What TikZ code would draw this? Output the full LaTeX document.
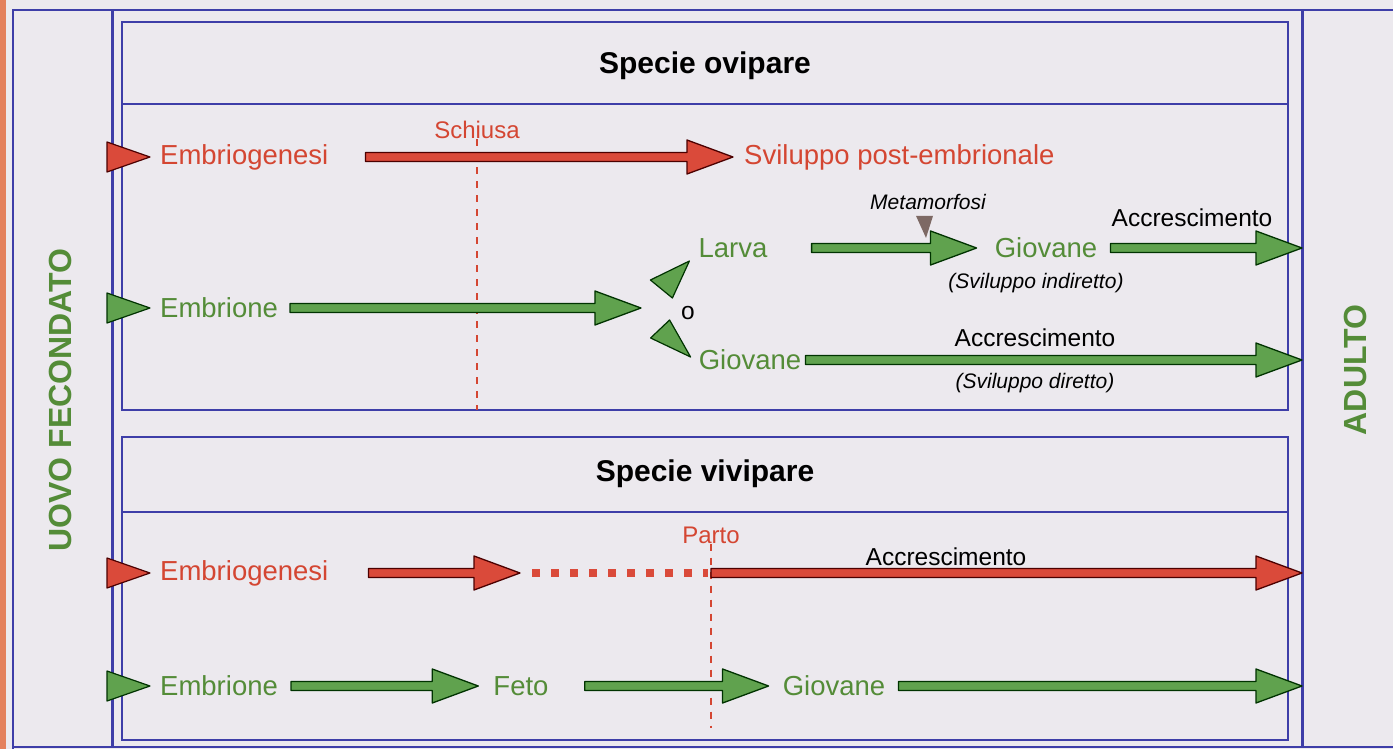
\documentclass[tikz,border=0pt]{standalone}
\usepackage{fontspec}
\setmainfont{Liberation Sans}
\usepackage{tikz}
\usetikzlibrary{calc, positioning}
\definecolor{paper}{RGB}{236,233,238}
\definecolor{pageedge}{RGB}{228,128,92}
\definecolor{framebl}{RGB}{62,62,168}
\definecolor{txtred}{RGB}{212,70,50}
\definecolor{txtgreen}{RGB}{84,140,56}
\definecolor{arrgreen}{RGB}{96,162,78}
\definecolor{arrred}{RGB}{218,74,58}
\definecolor{metabrown}{RGB}{125,105,100}

\tikzset{
  fat/.style={to path={let \p1=(\tikztostart), \p2=(\tikztotarget) in
    (\x1,\y1+4.5pt) -- (\x2-46pt,\y1+4.5pt) -- (\x2-46pt,\y1+17pt) -- (\x2,\y1)
    -- (\x2-46pt,\y1-17pt) -- (\x2-46pt,\y1-4.5pt) -- (\x1,\y1-4.5pt) -- cycle}},
  garrow/.style={fat, fill=arrgreen, draw=green!20!black, line width=1.3pt, line join=round},
  rarrow/.style={fat, fill=arrred, draw=red!30!black, line width=1.3pt, line join=round},
  gtri/.style={fill=arrgreen, draw=green!20!black, line width=1.2pt, line join=round},
  rtri/.style={fill=arrred, draw=red!30!black, line width=1.2pt, line join=round},
  frameline/.style={framebl, line width=2.2pt},
  boxline/.style={framebl, line width=2pt},
  stage/.style={font=\fontsize{27.5}{30}\selectfont, inner sep=0pt},
  redstage/.style={stage, text=txtred},
  greenstage/.style={stage, text=txtgreen},
  event/.style={font=\fontsize{24}{26}\selectfont, text=txtred, inner sep=0pt},
  growth/.style={font=\fontsize{24.5}{26}\selectfont, inner sep=0pt},
  remark/.style={font=\fontsize{21}{24}\selectfont\itshape, inner sep=0pt},
  title/.style={font=\fontsize{30}{32}\selectfont\bfseries, inner sep=0pt},
  colhead/.style={font=\fontsize{32}{34}\selectfont\bfseries, text=txtgreen, inner sep=0pt},
  birthline/.style={txtred, line width=1.6pt, dash pattern=on 7pt off 7pt},
}

\begin{document}
\begin{tikzpicture}[x=1pt, y=-1pt]
  \useasboundingbox (0,0) rectangle (1393,749);
  \fill[paper] (0,0) rectangle (1393,749);
  \fill[pageedge] (0,0) rectangle (6,749);

  % outer frame and columns
  \draw[frameline] (13,749) -- (13,10) -- (1393,10);
  \draw[frameline] (13,747) -- (1393,747);
  \draw[frameline, line width=3pt] (112,10) -- (112,747);
  \draw[frameline, line width=3pt] (1302,10) -- (1302,747);
  \coordinate (adult) at (1302,0);

  % the two boxes
  \draw[boxline] (122,22) rectangle (1288,410);
  \draw[boxline] (122,104) -- (1288,104);
  \draw[boxline] (122,437) rectangle (1288,740);
  \draw[boxline] (122,512) -- (1288,512);

  \node[colhead, rotate=90] (uovo) at (60,400) {UOVO FECONDATO};
  \node[colhead, rotate=90] (adulto) at (1355,370) {ADULTO};
  \node[title] (ovTitle) at (705,66) {Specie ovipare};
  \node[title] (viTitle) at (705,474) {Specie vivipare};

  % Specie ovipare
  \node[redstage, anchor=west] (ovEmb) at (160,157) {Embriogenesi};
  \node[redstage, anchor=west] (ovPost) at (744,157) {Sviluppo post-embrionale};
  \node[event] (schiusa) at (477,130) {Schiusa};
  \node[greenstage] (larva) at (733,248) {Larva};
  \node[greenstage] (ovGiovA) at (1046,248) {Giovane};
  \node[greenstage, anchor=west] (ovEmbr) at (160,308) {Embrione};
  \node[greenstage] (ovGiovB) at (750,360) {Giovane};
  \node[growth] (oppure) at (688,313) {o};
  \node[remark] (meta) at (928,202) {Metamorfosi};
  \node[growth] (accrA) at (1192,218) {Accrescimento};
  \node[remark] (indir) at (1036,283) {(Sviluppo indiretto)};
  \node[growth] (accrB) at (1035,338) {Accrescimento};
  \node[remark] (dir) at (1035,383) {(Sviluppo diretto)};

  \draw[birthline] (schiusa.south) -- (schiusa |- 0,410);
  \draw[rtri] ([xshift=-10]ovEmb.west) -- ++(-43,-15) -- ++(0,30) -- cycle;
  \draw[gtri] ([xshift=-10]ovEmbr.west) -- ++(-43,-15) -- ++(0,30) -- cycle;
  \draw[rarrow] ([xshift=37]ovEmb.east) to ([xshift=-11]ovPost.west);
  \draw[garrow] ([xshift=12]ovEmbr.east) to ([xshift=-40]oppure.west);
  \draw[gtri] ([shift={(-9,13)}]larva.west) -- ++(-39,19) -- ++(22,18) -- cycle;
  \draw[gtri] ([shift={(-8,-3)}]ovGiovB.west) -- ++(-21,-37) -- ++(-19,18) -- cycle;
  \draw[garrow] ([xshift=44]larva.east) to ([xshift=-18]ovGiovA.west);
  \fill[metabrown] ([shift={(-12,6)}]meta.south) -- ++(17,0) -- ++(-7,22) -- cycle;
  \draw[garrow] ([xshift=13]ovGiovA.east) to (adult |- ovGiovA);
  \draw[garrow] ([xshift=4]ovGiovB.east) to (adult |- ovGiovB);

  % Specie vivipare
  \node[redstage, anchor=west] (viEmb) at (160,573) {Embriogenesi};
  \node[event] (parto) at (711,535) {Parto};
  \node[growth] (accrC) at (946,557) {Accrescimento};
  \node[greenstage, anchor=west] (viEmbr) at (160,686) {Embrione};
  \node[greenstage] (feto) at (521,686) {Feto};
  \node[greenstage] (viGiov) at (834,686) {Giovane};
  \coordinate (endEmb) at (520,573);
  \coordinate (birth) at (parto |- viEmb);

  \draw[birthline] (parto.south) -- (parto |- 0,728);
  \draw[rtri] ([xshift=-10]viEmb.west) -- ++(-43,-15) -- ++(0,30) -- cycle;
  \draw[gtri] ([xshift=-10]viEmbr.west) -- ++(-43,-15) -- ++(0,30) -- cycle;
  \draw[rarrow] ([xshift=40]viEmb.east) to (endEmb);
  \draw[arrred, line width=8pt, dash pattern=on 8pt off 11pt] ([xshift=12]endEmb) -- ([xshift=-3]birth);
  \draw[rarrow] (birth) to (adult |- birth);
  \draw[garrow] ([xshift=13]viEmbr.east) to ([xshift=-15]feto.west);
  \draw[garrow] ([xshift=36]feto.east) to ([xshift=-14]viGiov.west);
  \draw[garrow] ([xshift=13]viGiov.east) to (adult |- viGiov);
\end{tikzpicture}
\end{document}
